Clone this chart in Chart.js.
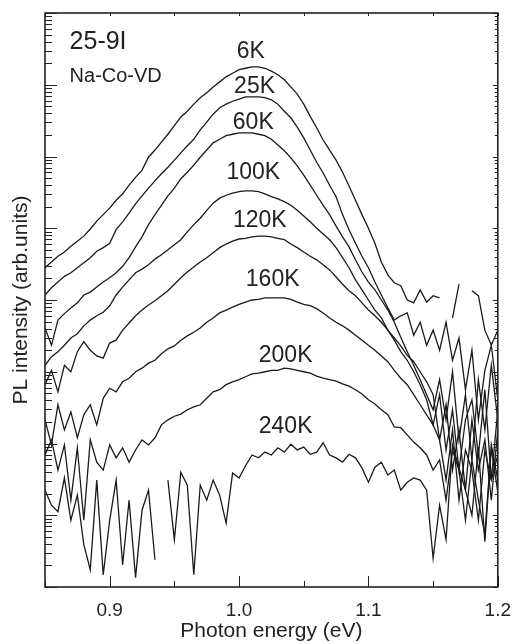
<!DOCTYPE html>
<html>
<head>
<meta charset="utf-8">
<script src="https://cdn.jsdelivr.net/npm/chart.js@4.4.0/dist/chart.umd.min.js"></script>
<style>
  html, body { margin: 0; padding: 0; background: #fff; }
  canvas { display: block; }
</style>
</head>
<body>
<canvas id="plChart" width="515" height="644"></canvas>
<script>
// PL spectra of sample 25-9I (Na-Co-VD)
// intensities are kept as log10 (arb. units), the plot is log scale

const energy = [
  0.85, 0.855, 0.86, 0.865, 0.87, 0.875, 0.88, 0.885, 0.89, 0.895,
  0.9, 0.905, 0.91, 0.915, 0.92, 0.925, 0.93, 0.935, 0.94, 0.945,
  0.95, 0.955, 0.96, 0.965, 0.97, 0.975, 0.98, 0.985, 0.99, 0.995,
  1.0, 1.005, 1.01, 1.015, 1.02, 1.025, 1.03, 1.035, 1.04, 1.045,
  1.05, 1.055, 1.06, 1.065, 1.07, 1.075, 1.08, 1.085, 1.09, 1.095,
  1.1, 1.105, 1.11, 1.115, 1.12, 1.125, 1.13, 1.135, 1.14, 1.145,
  1.15, 1.155, 1.16, 1.165, 1.17, 1.175, 1.18, 1.185, 1.19, 1.195, 1.2
];

const logPL6K = [
  4.45, 4.53, 4.61, 4.67, 4.75, 4.82, 4.89, 4.99, 5.10, 5.19,
  5.28, 5.39, 5.48, 5.60, 5.71, 5.81, 5.99, 6.09, 6.20, 6.31,
  6.43, 6.55, 6.63, 6.73, 6.82, 6.89, 6.97, 7.04, 7.11, 7.16,
  7.21, 7.23, 7.25, 7.25, 7.23, 7.19, 7.14, 7.07, 6.97, 6.87,
  6.73, 6.56, 6.40, 6.23, 6.09, 5.95, 5.78, 5.59, 5.39, 5.19,
  5.00, 4.79, 4.53, 4.35, 4.24, 4.20, 4.00, 3.96, 4.14, 3.97,
  4.06, 4.03, null, 3.75, 4.22, null, 4.13, 4.06, 3.58, 3.37, 3.58
];
const logPL25K = [
  4.07, 4.17, 4.25, 4.33, 4.38, 4.45, 4.52, 4.59, 4.68, 4.73,
  4.79, 4.98, 5.09, 5.21, 5.34, 5.45, 5.56, 5.66, 5.76, 5.85,
  5.95, 6.05, 6.15, 6.24, 6.37, 6.48, 6.59, 6.68, 6.73, 6.77,
  6.80, 6.83, 6.83, 6.83, 6.82, 6.79, 6.73, 6.63, 6.54, 6.41,
  6.26, 6.09, 5.92, 5.77, 5.60, 5.44, 5.19, 4.98, 4.79, 4.61,
  4.45, 4.25, 4.07, 3.89, 3.72, 3.78, 3.82, 3.51, 3.69, 3.37,
  3.58, 3.30, 3.69, 3.16, 3.47, 2.75, 3.30, 2.33, 3.02, 3.37, 2.61
];
const logPL60K = [
  3.61, 3.37, 3.72, 3.81, 3.89, 3.96, 4.07, 4.11, 4.18, 4.25,
  4.31, 4.38, 4.47, 4.59, 4.74, 4.88, 5.05, 5.19, 5.32, 5.45,
  5.56, 5.69, 5.78, 5.88, 5.99, 6.09, 6.19, 6.24, 6.29, 6.31,
  6.33, 6.33, 6.33, 6.31, 6.29, 6.24, 6.16, 6.08, 5.98, 5.87,
  5.74, 5.60, 5.46, 5.32, 5.19, 5.03, 4.88, 4.74, 4.56, 4.39,
  4.25, 4.14, 4.00, 3.86, 3.69, 3.48, 3.28, 3.09, 2.89, 2.68,
  2.47, 2.89, 2.33, 3.00, 2.05, 2.68, 1.77, 2.89, 2.19, 3.09, 2.33
];
const logPL100K = [
  3.09, 3.21, 3.28, 3.37, 3.47, 3.53, 3.64, 3.72, 3.78, 3.83,
  3.92, 4.07, 4.18, 4.28, 4.38, 4.43, 4.49, 4.57, 4.63, 4.70,
  4.77, 4.84, 4.95, 5.05, 5.14, 5.25, 5.35, 5.42, 5.46, 5.49,
  5.51, 5.52, 5.52, 5.51, 5.48, 5.44, 5.41, 5.37, 5.32, 5.25,
  5.17, 5.09, 5.00, 4.92, 4.84, 4.73, 4.59, 4.45, 4.28, 4.14,
  4.00, 3.86, 3.75, 3.58, 3.44, 3.28, 3.16, 3.00, 2.82, 2.61,
  2.26, 2.68, 1.91, 2.47, 1.63, 2.33, 2.61, 1.84, 2.75, 1.49, 2.47
];
const logPL120K = [
  2.82, 3.02, 2.72, 3.09, 3.00, 3.28, 3.42, 3.30, 3.22, 3.19,
  3.40, 3.44, 3.58, 3.68, 3.78, 3.86, 3.93, 3.99, 4.06, 4.13,
  4.22, 4.31, 4.39, 4.46, 4.53, 4.59, 4.66, 4.73, 4.78, 4.82,
  4.85, 4.86, 4.88, 4.89, 4.89, 4.88, 4.86, 4.84, 4.78, 4.73,
  4.67, 4.61, 4.56, 4.49, 4.42, 4.32, 4.22, 4.13, 4.06, 3.96,
  3.86, 3.78, 3.69, 3.58, 3.47, 3.36, 3.23, 3.14, 3.00, 2.86,
  2.68, 2.05, 2.54, 1.63, 2.19, 1.35, 2.33, 1.63, 2.05, 1.21, 2.19
];
const logPL160K = [
  2.33, 1.98, 2.54, 2.19, 2.44, 2.08, 2.40, 2.54, 2.26, 2.63,
  2.77, 2.72, 2.86, 2.91, 3.00, 3.05, 3.12, 3.16, 3.25, 3.32,
  3.36, 3.44, 3.50, 3.55, 3.61, 3.69, 3.75, 3.82, 3.86, 3.90,
  3.94, 3.97, 4.00, 4.01, 4.03, 4.03, 4.03, 4.03, 4.01, 3.97,
  3.94, 3.92, 3.88, 3.82, 3.75, 3.69, 3.64, 3.58, 3.51, 3.44,
  3.37, 3.30, 3.22, 3.14, 3.02, 2.91, 2.82, 2.68, 2.54, 2.40,
  2.26, 2.05, 1.49, 2.19, 1.21, 1.91, 1.63, 0.93, 1.91, 1.49, 1.84
];
const logPL200K = [
  1.84, 2.05, 1.63, 1.98, 1.21, 1.94, 0.93, 2.05, 1.74, 1.63,
  1.98, 1.80, 1.94, 1.74, 1.91, 2.05, 1.98, 2.08, 2.26, 2.33,
  2.38, 2.41, 2.47, 2.51, 2.54, 2.63, 2.72, 2.75, 2.82, 2.86,
  2.89, 2.93, 2.97, 2.98, 3.00, 3.02, 3.02, 3.05, 3.04, 3.02,
  3.00, 2.98, 2.94, 2.91, 2.89, 2.87, 2.83, 2.80, 2.75, 2.69,
  2.61, 2.55, 2.47, 2.40, 2.23, 2.22, 2.12, 2.02, 1.94, 1.84,
  1.63, 1.77, 1.21, 1.91, 1.63, 0.93, 1.77, 1.21, 0.73, 1.98, 1.49
];
const logPL240K = [
  1.35, 1.14, 1.05, 1.52, 0.93, 1.28, 0.59, 0.24, 1.49, 0.17,
  0.93, 1.49, 0.31, 1.21, 0.13, 1.07, 1.35, 0.38, null, 1.49,
  0.66, 1.60, 1.42, 0.17, 1.42, 1.21, 1.49, 1.28, 0.89, 1.59,
  1.52, 1.69, 1.84, 1.80, 1.88, 1.84, 1.94, 1.88, 1.99, 1.91,
  1.95, 1.85, 1.88, 2.01, 1.84, 1.80, 1.74, 1.85, 1.80, 1.66,
  1.46, 1.67, 1.74, 1.56, 1.63, 1.35, 1.46, 1.52, 1.49, 1.35,
  0.40, 1.14, 0.66, 1.98, 1.66, 1.35, 1.00, 1.95, 0.63, 1.94, 1.32
];

const temps = ['6K', '25K', '60K', '100K', '120K', '160K', '200K', '240K'];
const series = [logPL6K, logPL25K, logPL60K, logPL100K, logPL120K, logPL160K, logPL200K, logPL240K];

// where each temperature label sits (eV, log10 intensity)
const labelEnergy = [1.009, 1.012, 1.011, 1.011, 1.016, 1.026, 1.036, 1.036];
const labelLog = [7.46, 6.98, 6.47, 5.78, 5.10, 4.28, 3.23, 2.23];

const xTickLabels = [0.9, 1.0, 1.1, 1.2];
const xTickMarks = [0.85, 0.9, 0.95, 1.0, 1.05, 1.1, 1.15, 1.2];

const FONT = '"Liberation Sans", Arial, Helvetica, sans-serif';
const INK = '#222';

// Tick marks pointing inward + frame
const frameTicks = {
  id: 'frameTicks',
  afterDraw(chart) {
    const { ctx, chartArea: a, scales: { x, y } } = chart;
    ctx.save();
    ctx.strokeStyle = INK;
    ctx.lineWidth = 1;
    ctx.beginPath();
    xTickMarks.forEach(v => {
      const px = Math.round(x.getPixelForValue(v)) + 0.5;
      const major = Math.abs(v * 10 - Math.round(v * 10)) < 1e-6;
      ctx.moveTo(px, a.bottom);
      ctx.lineTo(px, a.bottom - (major ? 11 : 6));
      ctx.moveTo(px, a.top);
      ctx.lineTo(px, a.top + 3);
    });
    for (let n = 0; n <= 8; n++) {
      for (let k = 1; k <= 9; k++) {
        if (n === 8 && k > 1) break;
        const py = Math.round(y.getPixelForValue(k * Math.pow(10, n))) + 0.5;
        const major = k === 1;
        ctx.moveTo(a.left, py);
        ctx.lineTo(a.left + (major ? 12 : 7), py);
        ctx.moveTo(a.right, py);
        ctx.lineTo(a.right - (major ? 5 : 3), py);
      }
    }
    ctx.stroke();
    ctx.lineWidth = 1.6;
    ctx.strokeRect(a.left, a.top, a.right - a.left, a.bottom - a.top);
    ctx.restore();
  }
};

// Text inside the plot
const plotText = {
  id: 'plotText',
  afterDatasetsDraw(chart) {
    const { ctx, scales: { x, y } } = chart;
    ctx.save();
    ctx.fillStyle = INK;
    ctx.textBaseline = 'middle';
    ctx.textAlign = 'center';
    ctx.font = '23px ' + FONT;
    temps.forEach((t, i) => {
      ctx.fillText(t, x.getPixelForValue(labelEnergy[i]), y.getPixelForValue(Math.pow(10, labelLog[i])));
    });
    ctx.textAlign = 'left';
    ctx.font = '25px ' + FONT;
    ctx.fillText('25-9I', x.getPixelForValue(0.869), y.getPixelForValue(Math.pow(10, 7.60)));
    ctx.font = '20px ' + FONT;
    ctx.fillText('Na-Co-VD', x.getPixelForValue(0.869), y.getPixelForValue(Math.pow(10, 7.11)));
    ctx.restore();
  }
};

const datasets = series.map((s, i) => ({
  label: temps[i],
  data: energy.map((e, j) => ({ x: e, y: s[j] === null ? null : Math.pow(10, s[j]) })),
  borderColor: '#1a1a1a',
  borderWidth: 1.3,
  pointRadius: 0,
  tension: 0,
  spanGaps: false,
  fill: false
}));

const ctx = document.getElementById('plChart').getContext('2d');
const plChart = new Chart(ctx, {
  type: 'line',
  data: { datasets },
  options: {
    responsive: false,
    animation: false,
    devicePixelRatio: 1,
    layout: { padding: { top: 13, right: 12, left: 0, bottom: 0 } },
    plugins: {
      legend: { display: false },
      tooltip: { enabled: false }
    },
    scales: {
      x: {
        type: 'linear',
        min: 0.85,
        max: 1.2,
        afterBuildTicks: s => { s.ticks = xTickLabels.map(v => ({ value: v })); },
        afterFit: s => { s.height = 57; },
        grid: { display: false },
        border: { display: false },
        ticks: {
          padding: 4,
          color: INK,
          font: { size: 19, family: FONT },
          maxRotation: 0,
          autoSkip: false,
          callback: v => v.toFixed(1)
        },
        title: {
          display: true,
          text: 'Photon energy (eV)',
          color: INK,
          font: { size: 21, family: FONT },
          padding: { top: 0, bottom: 0 }
        }
      },
      y: {
        type: 'logarithmic',
        min: 1,
        max: 1e8,
        afterFit: s => { s.width = 45; },
        grid: { display: false },
        border: { display: false },
        ticks: { display: false },
        title: {
          display: true,
          text: 'PL intensity (arb.units)',
          color: INK,
          font: { size: 21, family: FONT },
          padding: { top: 9, bottom: 0 }
        }
      }
    }
  },
  plugins: [frameTicks, plotText]
});
</script>
</body>
</html>
